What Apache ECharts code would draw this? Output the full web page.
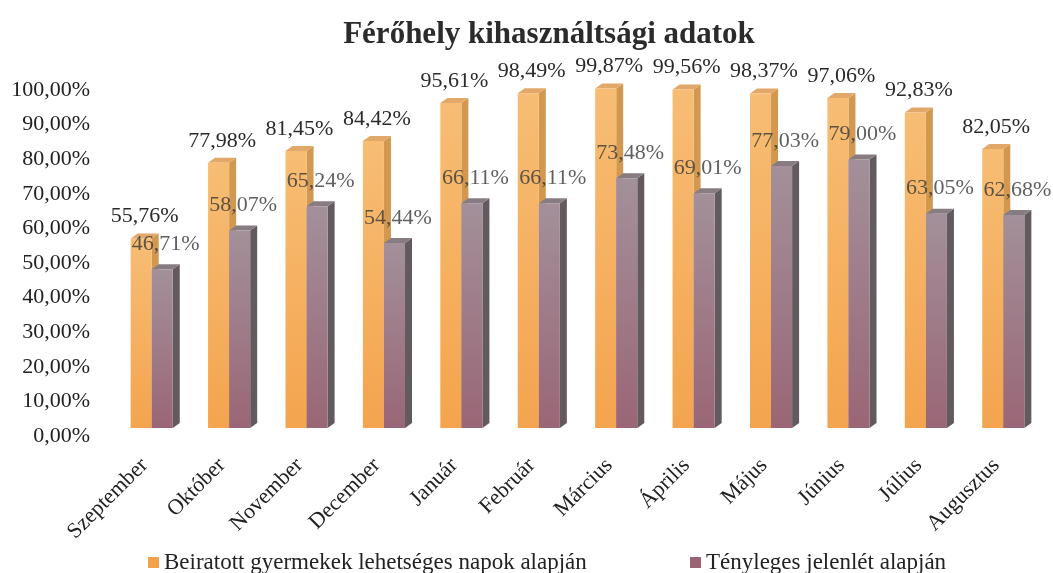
<!DOCTYPE html>
<html>
<head>
<meta charset="utf-8">
<script src="https://cdn.jsdelivr.net/npm/echarts@6/dist/echarts.min.js"></script>
<style>html,body{margin:0;padding:0;background:#fff}#c{width:1053px;height:573px}</style>
</head>
<body>
<div id="c"></div>
<script>
const categories = ['Szeptember','Október','November','December','Január','Február','Március','Április','Május','Június','Július','Augusztus'];
const enrolled = [55.76, 77.98, 81.45, 84.42, 95.61, 98.49, 99.87, 99.56, 98.37, 97.06, 92.83, 82.05];
const actual = [46.71, 58.07, 65.24, 54.44, 66.11, 66.11, 73.48, 69.01, 77.03, 79.00, 63.05, 62.68];
const seriesNames = ['Beiratott gyermekek lehetséges napok alapján', 'Tényleges jelenlét alapján'];
const yTicks = [0, 10, 20, 30, 40, 50, 60, 70, 80, 90, 100];

const FONT = '"Liberation Serif", "DejaVu Serif", serif';
const fmt = v => v.toFixed(2).replace('.', ',') + '%';

function bar3D(side, pal, labelColor, labelGap) {
  return function (params, api) {
    const idx = api.value(0), v = api.value(1);
    const top = api.coord([idx, v]);
    const base = api.coord([idx, 0]);
    const catW = api.size([1, 0])[0];
    const w = catW * 0.272;
    const dx = 7, dy = 5;
    const x0 = side < 0 ? top[0] - w : top[0];
    const x1 = x0 + w;
    const yt = top[1], yb = base[1];
    return {
      type: 'group',
      children: [
        { type: 'polygon', shape: { points: [[x1, yt], [x1 + dx, yt - dy], [x1 + dx, yb - dy], [x1, yb]] },
          style: { fill: pal.side } },
        { type: 'polygon', shape: { points: [[x0, yt], [x1, yt], [x1 + dx, yt - dy], [x0 + dx, yt - dy]] },
          style: { fill: pal.top } },
        { type: 'rect', shape: { x: x0, y: yt, width: w, height: yb - yt },
          style: { fill: new echarts.graphic.LinearGradient(0, 0, 0, 1, [
            { offset: 0, color: pal.front0 }, { offset: 1, color: pal.front1 }]) } },
        { type: 'text', z2: 100,
          style: { text: fmt(v), x: (x0 + x1 + dx) / 2, y: yt - dy - labelGap, align: 'center', verticalAlign: 'bottom',
            font: '22px ' + FONT, fill: labelColor } }
      ]
    };
  };
}

const chart = echarts.init(document.getElementById('c'), null, { renderer: 'canvas' });
chart.setOption({
  backgroundColor: '#ffffff',
  animation: false,
  title: {
    text: 'Férőhely kihasználtsági adatok', left: 544, top: 14, textAlign: 'center',
    textStyle: { fontFamily: FONT, fontWeight: 'bold', fontSize: 31, color: '#2b2b2b' }
  },
  legend: [
    { data: [seriesNames[0]], left: 143, top: 546, itemWidth: 11, itemHeight: 11, icon: 'rect',
      textStyle: { fontFamily: FONT, fontSize: 23, color: '#222' } },
    { data: [seriesNames[1]], left: 685, top: 546, itemWidth: 11, itemHeight: 11, icon: 'rect',
      textStyle: { fontFamily: FONT, fontSize: 23, color: '#222' } }
  ],
  grid: [
    { left: 113, right: 11, top: 88, bottom: 145 },
    { left: 113, right: 11, top: 90, bottom: 137 }
  ],
  xAxis: [
    { type: 'category', gridIndex: 0, data: categories,
      axisLine: { show: false }, axisTick: { show: false },
      axisLabel: { interval: 0, rotate: 45, margin: 27, padding: [0, 10, 0, 0], fontFamily: FONT, fontSize: 22, color: '#222' } },
    { type: 'category', gridIndex: 1, data: categories, show: false }
  ],
  yAxis: [
    { type: 'value', gridIndex: 0, min: 0, max: 100, interval: 10, show: false, splitLine: { show: false } },
    { type: 'value', gridIndex: 1, min: yTicks[0], max: yTicks[yTicks.length - 1], interval: 10,
      axisLine: { show: false }, axisTick: { show: false }, splitLine: { show: false },
      axisLabel: { margin: 23, fontFamily: FONT, fontSize: 22, color: '#222', formatter: v => fmt(v) } }
  ],
  series: [
    { name: seriesNames[0], type: 'custom', xAxisIndex: 0, yAxisIndex: 0,
      itemStyle: { color: '#f2a24b' },
      renderItem: bar3D(-1, { front0: '#f7bd74', front1: '#f4a44e', side: '#d29850', top: '#e2a86a' }, '#2a2a2a', 6),
      data: enrolled.map((v, i) => [i, v]) },
    { name: seriesNames[1], type: 'custom', xAxisIndex: 0, yAxisIndex: 0,
      itemStyle: { color: '#9b6474' },
      renderItem: bar3D(1, { front0: '#a3909a', front1: '#9a6676', side: '#625a5f', top: '#877c82' }, 'rgba(55,55,55,0.8)', 9),
      data: actual.map((v, i) => [i, v]) }
  ]
});
</script>
</body>
</html>
